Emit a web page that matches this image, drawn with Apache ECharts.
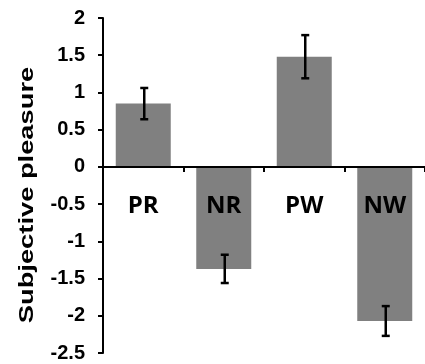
<!DOCTYPE html>
<html>
<head>
<meta charset="utf-8">
<script src="https://cdn.jsdelivr.net/npm/echarts@6/dist/echarts.min.js"></script>
<style>
html,body{margin:0;padding:0;background:#fff;}
#chart{width:425px;height:364px;}
</style>
</head>
<body>
<div id="chart"></div>
<script>
const categories = ['PR', 'NR', 'PW', 'NW'];
const meanValues = [0.85, -1.37, 1.48, -2.07];
const errorValues = [0.21, 0.19, 0.29, 0.20];
const yTitle = 'Subjective pleasure';
const yMin = -2.5, yMax = 2;

const gridTop = 18, gridBottom = 11, H = 364;
const plotH = H - gridTop - gridBottom;
const zeroOffset = -plotH * (0 - yMin) / (yMax - yMin);

const chart = echarts.init(document.getElementById('chart'));
const errorData = categories.map((c, i) => [i, meanValues[i] - errorValues[i], meanValues[i] + errorValues[i]]);

chart.setOption({
  animation: false,
  grid: { left: 103, right: 0, top: gridTop, bottom: gridBottom, containLabel: false, outerBoundsMode: 'none' },
  xAxis: {
    type: 'category',
    data: categories,
    position: 'bottom',
    offset: zeroOffset,
    z: 10,
    axisLine: { onZero: false, lineStyle: { color: '#000', width: 2 } },
    axisTick: { show: true, length: 5, lineStyle: { color: '#000', width: 2 } },
    axisLabel: { margin: 27, fontFamily: 'Open Sans', fontWeight: 'bold', fontSize: 24, color: '#000' }
  },
  yAxis: {
    type: 'value',
    min: yMin, max: yMax, interval: 0.5,
    splitLine: { show: false },
    axisLine: { show: true, lineStyle: { color: '#000', width: 2 } },
    axisTick: { show: true, length: 5, lineStyle: { color: '#000', width: 2 } },
    axisLabel: { margin: 18, fontFamily: 'Liberation Sans', fontWeight: 'bold', fontSize: 20, color: '#000' }
  },
  graphic: [{
    type: 'text',
    x: 27, y: 195,
    rotation: Math.PI / 2,
    scaleX: 1.3,
    style: {
      text: yTitle,
      font: 'bold 21px "Liberation Sans"',
      fill: '#000',
      textAlign: 'center',
      textVerticalAlign: 'middle'
    }
  }],
  series: [{
    type: 'bar',
    data: meanValues,
    barWidth: 55,
    itemStyle: { color: '#808080' },
    z: 2
  }, {
    type: 'custom',
    z: 5,
    data: errorData,
    renderItem: function (params, api) {
      const x = api.value(0);
      const lo = api.coord([x, api.value(1)]);
      const hi = api.coord([x, api.value(2)]);
      const cx = lo[0] + 1;
      const hw = 4;
      const st = { stroke: '#000', lineWidth: 2.5 };
      return {
        type: 'group',
        children: [
          { type: 'line', shape: { x1: cx, y1: lo[1], x2: cx, y2: hi[1] }, style: st },
          { type: 'line', shape: { x1: cx - hw, y1: lo[1], x2: cx + hw, y2: lo[1] }, style: st },
          { type: 'line', shape: { x1: cx - hw, y1: hi[1], x2: cx + hw, y2: hi[1] }, style: st }
        ]
      };
    }
  }]
});
</script>
</body>
</html>
